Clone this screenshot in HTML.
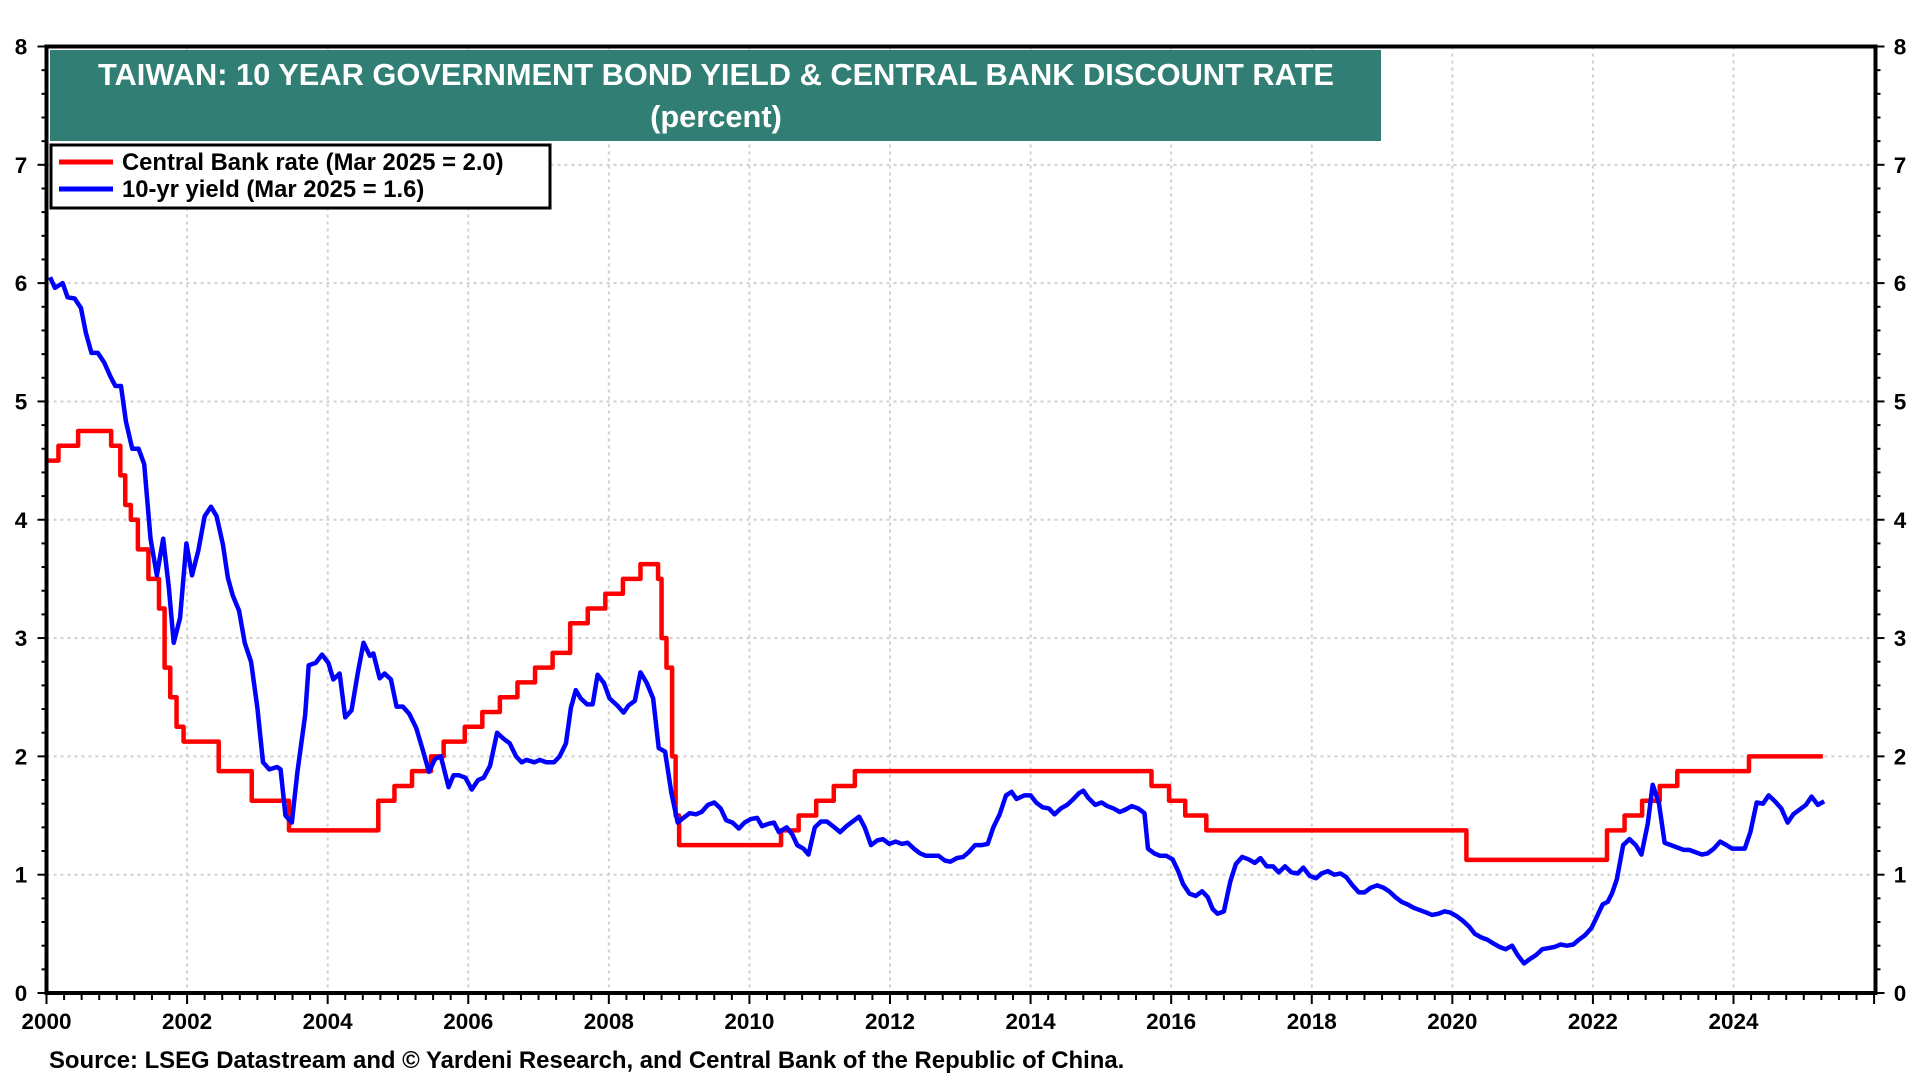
<!DOCTYPE html>
<html><head><meta charset="utf-8"><style>
html,body{margin:0;padding:0;background:#fff;}
svg{display:block;font-family:"Liberation Sans",Arial,sans-serif;font-weight:bold;}
</style></head><body>
<svg id="chart" width="1920" height="1080" viewBox="0 0 1920 1080">
<g id="grid"></g>
<g id="series"></g>
<g id="axes"></g>
<rect x="50" y="50" width="1331" height="91" fill="#317f74"/>
<text x="716" y="85" text-anchor="middle" fill="#fff" font-size="30.8">TAIWAN: 10 YEAR GOVERNMENT BOND YIELD &amp; CENTRAL BANK DISCOUNT RATE</text>
<text x="716" y="127" text-anchor="middle" fill="#fff" font-size="30.8">(percent)</text>
<g>
<rect x="51" y="145" width="499" height="63" fill="#fff" stroke="#000" stroke-width="3"/>
<line x1="59" y1="162" x2="113" y2="162" stroke="#ff0000" stroke-width="5"/>
<text x="122" y="170" font-size="23.8" fill="#000">Central Bank rate (Mar 2025 = 2.0)</text>
<line x1="59" y1="189" x2="113" y2="189" stroke="#0000ff" stroke-width="5"/>
<text x="122" y="197" font-size="23.8" fill="#000">10-yr yield (Mar 2025 = 1.6)</text>
</g>
<text x="49" y="1068" font-size="23.9" fill="#000">Source: LSEG Datastream and © Yardeni Research, and Central Bank of the Republic of China.</text>
</svg>
<script>
const xTicks = [2000,2002,2004,2006,2008,2010,2012,2014,2016,2018,2020,2022,2024];
const yTicks = [0,1,2,3,4,5,6,7,8];
const rateDates = [2000.0,2000.17,2000.45,2000.92,2001.05,2001.12,2001.2,2001.3,2001.45,2001.6,2001.68,2001.76,2001.85,2001.95,2002.45,2002.92,2003.45,2004.72,2004.95,2005.2,2005.47,2005.65,2005.95,2006.2,2006.45,2006.7,2006.95,2007.2,2007.45,2007.7,2007.95,2008.2,2008.45,2008.7,2008.75,2008.82,2008.9,2008.95,2009.0,2010.45,2010.7,2010.95,2011.2,2011.5,2015.72,2015.97,2016.2,2016.5,2020.2,2022.2,2022.45,2022.7,2022.95,2023.2,2024.22];
const rateValues = [4.5,4.625,4.75,4.625,4.375,4.125,4.0,3.75,3.5,3.25,2.75,2.5,2.25,2.125,1.875,1.625,1.375,1.625,1.75,1.875,2.0,2.125,2.25,2.375,2.5,2.625,2.75,2.875,3.125,3.25,3.375,3.5,3.625,3.5,3.0,2.75,2.0,1.5,1.25,1.375,1.5,1.625,1.75,1.875,1.75,1.625,1.5,1.375,1.125,1.375,1.5,1.625,1.75,1.875,2.0];
const rateEnd = 2025.27;
const yieldDates = [
2000.05,2000.12,2000.23,2000.30,2000.40,2000.49,2000.56,2000.64,2000.73,2000.82,2000.91,2000.98,
2001.06,2001.13,2001.22,2001.31,2001.39,2001.48,2001.57,2001.66,2001.74,2001.81,2001.90,2001.99,
2002.07,2002.16,2002.25,2002.34,2002.42,2002.51,2002.58,2002.65,2002.74,2002.82,2002.91,
2003.00,2003.08,2003.17,2003.28,2003.33,2003.40,2003.49,2003.57,2003.68,2003.73,2003.83,2003.92,
2004.01,2004.08,2004.17,2004.25,2004.34,2004.43,2004.51,2004.60,2004.65,2004.74,2004.81,2004.90,2004.98,
2005.07,2005.16,2005.26,2005.35,2005.44,2005.53,2005.61,2005.72,2005.79,2005.87,2005.96,
2006.05,2006.14,2006.22,2006.31,2006.41,2006.50,2006.59,2006.68,2006.76,2006.83,2006.94,
2007.02,2007.11,2007.22,2007.30,2007.39,2007.46,2007.53,2007.60,2007.69,2007.77,2007.84,2007.93,
2008.01,2008.12,2008.21,2008.28,2008.37,2008.45,2008.54,2008.63,2008.71,2008.80,2008.89,2008.98,
2009.06,2009.15,2009.24,2009.32,2009.41,2009.50,2009.59,2009.67,2009.76,2009.85,2009.93,
2010.02,2010.11,2010.18,2010.27,2010.35,2010.42,2010.53,2010.61,2010.68,2010.77,2010.84,2010.93,
2011.02,2011.10,2011.21,2011.29,2011.38,2011.47,2011.56,2011.64,2011.73,2011.82,2011.90,2011.99,
2012.08,2012.17,2012.25,2012.34,2012.43,2012.51,2012.60,2012.69,2012.78,2012.86,2012.95,
2013.04,2013.12,2013.21,2013.30,2013.39,2013.47,2013.56,2013.65,2013.73,2013.80,2013.91,
2014.00,2014.08,2014.17,2014.26,2014.34,2014.43,2014.52,2014.61,2014.69,2014.75,2014.82,2014.92,
2015.01,2015.09,2015.18,2015.27,2015.35,2015.44,2015.53,2015.62,2015.67,2015.76,2015.84,2015.93,
2016.02,2016.10,2016.17,2016.26,2016.35,2016.44,2016.52,2016.59,2016.66,2016.75,2016.84,2016.92,
2017.01,2017.10,2017.19,2017.27,2017.36,2017.45,2017.53,2017.62,2017.71,2017.80,2017.88,2017.97,
2018.06,2018.14,2018.23,2018.32,2018.41,2018.49,2018.58,2018.67,2018.75,2018.84,2018.93,
2019.02,2019.10,2019.19,2019.28,2019.36,2019.45,2019.54,2019.63,2019.71,2019.80,2019.89,2019.97,
2020.06,2020.15,2020.24,2020.32,2020.41,2020.50,2020.58,2020.67,2020.76,2020.85,2020.93,
2021.02,2021.11,2021.19,2021.28,2021.37,2021.46,2021.54,2021.63,2021.72,2021.80,2021.89,2021.98,
2022.06,2022.14,2022.21,2022.27,2022.34,2022.43,2022.52,2022.61,2022.69,2022.78,2022.85,2022.94,
2023.02,2023.11,2023.20,2023.29,2023.37,2023.46,2023.55,2023.63,2023.72,2023.81,2023.90,2023.98,
2024.07,2024.16,2024.24,2024.33,2024.42,2024.50,2024.59,2024.68,2024.77,2024.85,2024.94,
2025.03,2025.11,2025.20,2025.29];
const yieldValues = [
6.05,5.96,6.00,5.88,5.87,5.79,5.58,5.41,5.41,5.33,5.21,5.13,
5.13,4.83,4.60,4.60,4.47,3.84,3.53,3.84,3.43,2.96,3.17,3.80,
3.53,3.74,4.03,4.11,4.03,3.79,3.51,3.36,3.23,2.96,2.80,
2.41,1.95,1.89,1.91,1.89,1.50,1.44,1.87,2.35,2.77,2.79,2.86,
2.79,2.65,2.70,2.33,2.39,2.71,2.96,2.85,2.87,2.66,2.70,2.65,2.42,
2.42,2.36,2.24,2.06,1.87,1.98,2.00,1.74,1.84,1.84,1.82,
1.72,1.80,1.82,1.92,2.20,2.15,2.11,2.00,1.95,1.97,1.95,
1.97,1.95,1.95,2.00,2.11,2.41,2.56,2.49,2.44,2.44,2.69,2.62,
2.49,2.43,2.37,2.43,2.47,2.71,2.62,2.49,2.07,2.04,1.69,1.44,
1.48,1.52,1.51,1.53,1.59,1.61,1.56,1.46,1.44,1.39,1.44,
1.47,1.48,1.41,1.43,1.44,1.36,1.40,1.34,1.25,1.22,1.17,1.40,
1.45,1.45,1.40,1.36,1.41,1.45,1.49,1.40,1.25,1.29,1.30,1.26,
1.28,1.26,1.27,1.22,1.18,1.16,1.16,1.16,1.12,1.11,1.14,
1.15,1.19,1.25,1.25,1.26,1.40,1.51,1.67,1.70,1.64,1.67,
1.67,1.61,1.57,1.56,1.51,1.56,1.59,1.64,1.69,1.71,1.65,1.59,
1.61,1.58,1.56,1.53,1.55,1.58,1.56,1.52,1.22,1.18,1.16,1.16,
1.13,1.03,0.92,0.84,0.82,0.86,0.81,0.71,0.67,0.69,0.94,1.09,
1.15,1.13,1.10,1.14,1.07,1.07,1.02,1.07,1.02,1.01,1.06,0.99,
0.97,1.01,1.03,1.00,1.01,0.98,0.91,0.85,0.85,0.89,0.91,
0.89,0.86,0.81,0.77,0.75,0.72,0.70,0.68,0.66,0.67,0.69,0.68,
0.65,0.61,0.56,0.50,0.47,0.45,0.42,0.39,0.37,0.40,0.32,
0.25,0.29,0.32,0.37,0.38,0.39,0.41,0.40,0.41,0.45,0.49,0.55,
0.65,0.75,0.77,0.84,0.96,1.25,1.30,1.25,1.17,1.43,1.76,1.60,
1.27,1.25,1.23,1.21,1.21,1.19,1.17,1.18,1.22,1.28,1.25,1.22,
1.22,1.22,1.36,1.61,1.60,1.67,1.62,1.56,1.44,1.51,1.55,
1.59,1.66,1.59,1.62];

const NS = 'http://www.w3.org/2000/svg';
const L = 46.5, R = 1875.5, T = 46.5, B = 993;
const X0 = 2000, X1 = 2026.02, Y0 = 0, Y1 = 8;
function xs(v){ return L + (v - X0) / (X1 - X0) * (R - L); }
function ys(v){ return B - (v - Y0) / (Y1 - Y0) * (B - T); }
function mk(tag, attrs, parent){
  const e = document.createElementNS(NS, tag);
  for (const k in attrs) e.setAttribute(k, attrs[k]);
  parent.appendChild(e);
  return e;
}
const grid = document.getElementById('grid');
const axes = document.getElementById('axes');
const series = document.getElementById('series');

xTicks.forEach(function(t){
  if (t === X0) return;
  const g = mk('line', {x1: xs(t), x2: xs(t), y1: T, y2: B, stroke: '#d0d0d0', 'stroke-width': 2, 'stroke-dasharray': '3,4'}, grid);
  
  
});
yTicks.forEach(function(t){
  if (t === Y0 || t === Y1) return;
  const g = mk('line', {x1: L, x2: R, y1: ys(t), y2: ys(t), stroke: '#d0d0d0', 'stroke-width': 2, 'stroke-dasharray': '3,4'}, grid);
  
  
});

let d = '';
for (let i = 0; i < rateDates.length; i++) {
  const x = xs(rateDates[i]), y = ys(rateValues[i]);
  if (i === 0) d += 'M' + x + ' ' + y;
  else d += 'L' + x + ' ' + ys(rateValues[i-1]) + 'L' + x + ' ' + y;
}
d += 'L' + xs(rateEnd) + ' ' + ys(rateValues[rateValues.length - 1]);
const rp = mk('path', {d: d, fill: 'none', stroke: '#ff0000', 'stroke-width': 4.5, 'stroke-linejoin': 'round'}, series);



let d2 = '';
const n = Math.min(yieldDates.length, yieldValues.length);
for (let i = 0; i < n; i++) {
  d2 += (i === 0 ? 'M' : 'L') + xs(yieldDates[i]) + ' ' + ys(yieldValues[i]);
}
const yp = mk('path', {d: d2, fill: 'none', stroke: '#0000ff', 'stroke-width': 4.5, 'stroke-linejoin': 'round'}, series);



const fr = mk('rect', {x: L, y: T, width: R - L, height: B - T, fill: 'none', stroke: '#000', 'stroke-width': 4}, axes);



for (let q = 0; q <= (X1 - X0) * 4; q++) {
  const v = X0 + q / 4;
  if (v > X1) break;
  const major = (q % 8 === 0);
  const tk = mk('line', {x1: xs(v), x2: xs(v), y1: B, y2: B + (major ? 11 : 7), stroke: '#000', 'stroke-width': 2}, axes);
  
  
}
xTicks.forEach(function(t){
  const tx = mk('text', {x: xs(t), y: 1029, 'text-anchor': 'middle', 'font-size': 22.5, fill: '#000'}, axes);
  tx.textContent = String(t);
  
  
});
for (let k = 0; k <= (Y1 - Y0) * 5; k++) {
  const v = Y0 + k / 5;
  const major = (k % 5 === 0);
  const len = major ? 9 : 5;
  const a = mk('line', {x1: L - len, x2: L, y1: ys(v), y2: ys(v), stroke: '#000', 'stroke-width': 2}, axes);
  
  
  const b = mk('line', {x1: R, x2: R + len, y1: ys(v), y2: ys(v), stroke: '#000', 'stroke-width': 2}, axes);
  
  
}
yTicks.forEach(function(t){
  const a = mk('text', {x: 21, y: ys(t) + 8, 'text-anchor': 'middle', 'font-size': 22.5, fill: '#000'}, axes);
  a.textContent = String(t);
  
  
  const b = mk('text', {x: 1900, y: ys(t) + 8, 'text-anchor': 'middle', 'font-size': 22.5, fill: '#000'}, axes);
  b.textContent = String(t);
  
  
});
</script>
</body></html>
